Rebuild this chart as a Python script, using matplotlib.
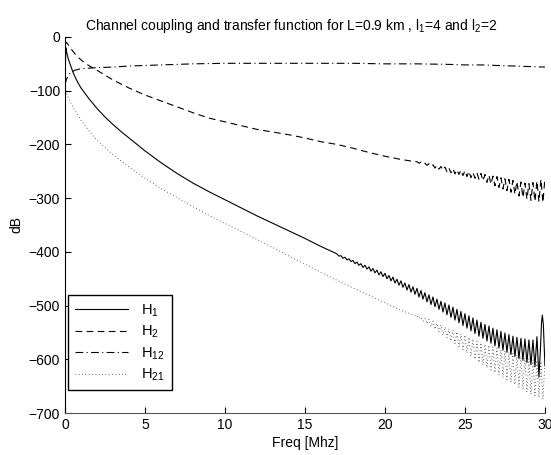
import numpy as np
import matplotlib
matplotlib.use("Agg")
import matplotlib.pyplot as plt

plt.rcParams['font.family'] = ['Liberation Sans', 'DejaVu Sans']
plt.rcParams['font.size'] = 10

# H1 (solid) - smooth part, then ripple, then last wide lobe
h1_f = [0.0, 0.05, 0.1, 0.2, 0.3, 0.5, 0.75, 1.0, 1.5, 2.0, 2.5, 3.0, 3.5, 4.0,
        5.0, 6.0, 7.0, 8.0, 9.0, 10.0, 11.0, 12.0, 13.0, 14.0, 15.0, 16.0, 16.875]
h1_db = [-85, -20, -28, -40, -49, -66, -82, -95, -115, -133, -149, -163, -176, -188,
         -212, -234, -254, -272, -288, -303, -318, -333, -347, -361, -375, -390, -402]
h1_ripple = [
    -404, -408, -407, -412, -410, -415, -413, -418,   # 17
    -416, -422, -419, -425, -422, -429, -425, -432,   # 18
    -428, -436, -431, -439, -434, -443, -437, -446,   # 19
    -440, -450, -444, -454, -447, -458, -451, -462,   # 20
    -454, -466, -458, -471, -461, -475, -465, -479,   # 21
    -468, -484, -472, -488, -476, -493, -480, -498,   # 22
    -484, -502, -488, -507, -492, -512, -495, -517,   # 23
    -499, -522, -503, -527, -507, -532, -511, -537,   # 24
    -515, -542, -519, -547, -523, -552, -527, -557,   # 25
    -531, -561, -535, -566, -538, -570, -542, -575,   # 26
    -545, -579, -548, -583, -551, -587, -554, -591,   # 27
    -557, -595, -559, -599, -561, -602, -562, -606,   # 28
    -564, -610, -564, -614, -558, -633]               # 29
h1_tail_f = [29.72, 29.79, 29.84, 29.9, 29.96, 30.0]
h1_tail = [-580, -530, -518, -535, -580, -612]

# H2 (dashed)
h2_f = [0.0, 0.1, 0.4, 0.75, 1.25, 2.0, 3.0, 4.0, 5.0, 6.0, 7.0, 8.0, 9.0, 10.0,
        11.0, 12.0, 13.0, 14.0, 15.0, 16.0, 17.0, 18.0, 19.0, 20.0, 21.0, 21.875]
h2_db = [-14, -10, -23, -36, -49, -62, -80, -95, -108, -119, -130, -141, -151, -158,
         -165, -172, -177, -182, -188, -195, -200, -207, -215, -222, -228, -232]
h2_ripple = [
    -232, -235, -233, -237, -235, -239, -236, -241,   # 22
    -238, -244, -239, -246, -241, -248, -242, -251,   # 23
    -244, -253, -245, -255, -247, -256, -248, -258,   # 24
    -249, -260, -250, -262, -252, -263, -253, -265,   # 25
    -254, -268, -256, -271, -257, -274, -259, -277,   # 26
    -260, -280, -262, -283, -264, -286, -265, -289,   # 27
    -267, -293, -269, -296, -270, -299, -272, -302,   # 28
    -273, -304, -271, -306, -268, -307, -265, -308,   # 29
    -262]                                             # 30

# H12 (dash-dot)
h12_f = [0.0, 0.1, 0.3, 0.6, 1.0, 1.5, 2.0, 3.0, 4.0, 6.0, 8.0, 10.0, 12.0, 14.0,
         16.0, 18.0, 20.0, 22.0, 24.0, 25.0, 26.0, 27.0, 28.0, 29.0, 30.0]
h12_db = [-88, -78, -68, -62, -59, -58, -57, -56, -54, -52, -50, -49, -49, -49,
          -49, -49, -50, -50, -51, -52, -52, -53, -54, -55, -56]

# H21 (dotted)
h21_f = [0.0, 0.05, 0.2, 0.5, 1.0, 1.5, 2.0, 2.5, 3.0, 4.0, 5.0, 6.0, 7.0, 8.0,
         9.0, 10.0, 11.0, 12.0, 13.0, 14.0, 15.0, 16.0, 17.0, 18.0, 19.0, 20.0,
         21.0, 21.875]
h21_db = [-100, -102, -113, -131, -155, -175, -192, -206, -219, -242, -263, -282,
          -299, -316, -332, -347, -362, -377, -392, -408, -423, -438, -453, -467,
          -481, -495, -509, -518]
h21_ripple = [
    -518, -524, -521, -529, -524, -534, -526, -539,   # 22
    -529, -544, -533, -549, -536, -555, -540, -560,   # 23
    -543, -566, -546, -571, -549, -577, -552, -582,   # 24
    -555, -588, -559, -594, -562, -600, -566, -606,   # 25
    -569, -611, -572, -616, -574, -620, -577, -625,   # 26
    -579, -629, -582, -634, -584, -638, -587, -643,   # 27
    -589, -647, -592, -652, -594, -656, -597, -661,   # 28
    -599, -665, -601, -668, -602, -671, -604, -674,   # 29
    -605]                                             # 30

STEP = 0.125  # sample spacing of the ripple sections


def ripple_x(start, n):
    return start + STEP * np.arange(n)


x1 = np.concatenate([h1_f, ripple_x(17.0, len(h1_ripple)), h1_tail_f])
y1 = np.concatenate([h1_db, h1_ripple, h1_tail])
x2 = np.concatenate([h2_f, ripple_x(22.0, len(h2_ripple))])
y2 = np.concatenate([h2_db, h2_ripple])
x21 = np.concatenate([h21_f, ripple_x(22.0, len(h21_ripple))])
y21 = np.concatenate([h21_db, h21_ripple])

fig = plt.figure(figsize=(5.51, 4.55), dpi=100)
ax = fig.add_axes([0.118, 0.0923, 0.871, 0.8264])

ax.plot(x1, y1, color='k', lw=0.8, ls='-', label=r'$\mathregular{H_1}$')
ax.plot(x2, y2, color='k', lw=0.8, ls=(0, (6, 4)), label=r'$\mathregular{H_2}$')
ax.plot(h12_f, h12_db, color='k', lw=0.8, ls=(0, (7, 3, 1, 3)), label=r'$\mathregular{H_{12}}$')
ax.plot(x21, y21, color='#333333', lw=0.6, ls=(0, (1, 3)), label=r'$\mathregular{H_{21}}$')

ax.set_xlim(0, 30)
ax.set_ylim(-700, 0)
ax.set_xticks(range(0, 31, 5))
ax.set_yticks(range(-700, 1, 100))
ax.spines['top'].set_visible(False)
ax.spines['right'].set_visible(False)
ax.spines['bottom'].set_color('#555555')
ax.tick_params(direction='in', length=4, width=0.8)

ax.set_xlabel('Freq [Mhz]', labelpad=3)
ax.set_ylabel('dB', labelpad=4)
ax.set_title(r'Channel coupling and transfer function for L=0.9 km , $\mathregular{l_1}$=4 and $\mathregular{l_2}$=2',
             fontsize=10, x=0.472, pad=5)

leg = ax.legend(loc='lower left', bbox_to_anchor=(0.006, 0.06), borderaxespad=0,
                fancybox=False, edgecolor='k', handlelength=3.6, labelspacing=0.35,
                borderpad=0.5, handletextpad=0.9, framealpha=1, fontsize=10.5)
leg.get_frame().set_linewidth(1.0)

fig.savefig('out.png', dpi=100)
